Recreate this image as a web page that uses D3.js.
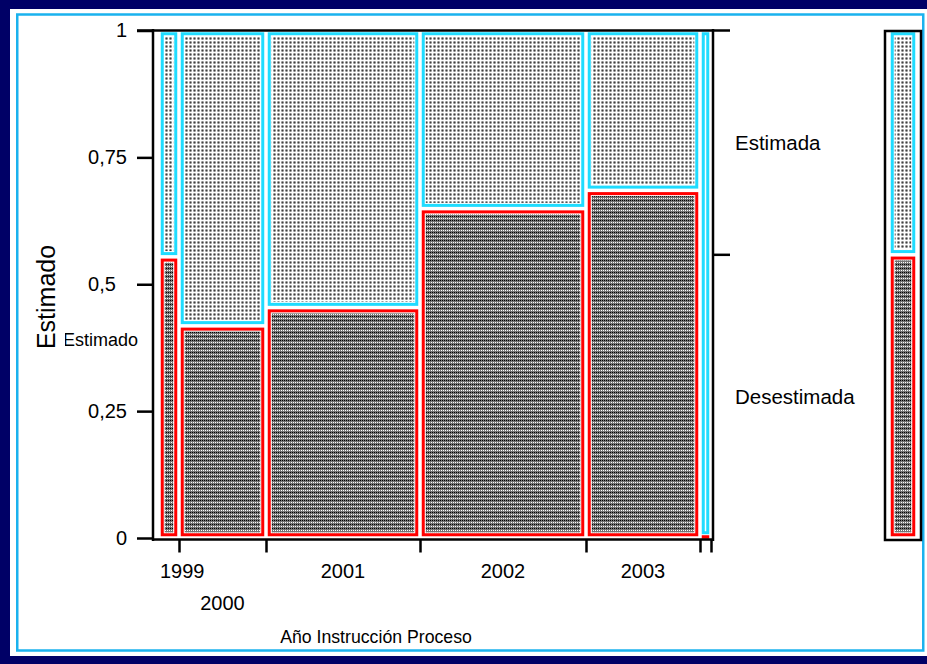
<!DOCTYPE html>
<html><head><meta charset="utf-8">
<script src="https://cdn.jsdelivr.net/npm/d3@7"></script>
<style>
body{margin:0;background:#000066;}
svg{display:block;}
text{font-family:"Liberation Sans",Arial,sans-serif;fill:#000;}
</style>
</head><body>
<svg id="c" width="927" height="664"></svg>
<script>
// ---- data ----
const years = ["1999","2000","2001","2002","2003",""];
const yearCounts = [20, 87, 154, 166, 114, 11];
const desestimadaShare = [0.554, 0.418, 0.454, 0.649, 0.685, 0.004];
const levels = ["Desestimada", "Estimada"];
const overallDesestimada = 0.558;
const yTicks = [0, 0.25, 0.5, 0.75, 1];

// ---- setup ----
const W = 927, H = 664;
const svg = d3.select("#c");
svg.append("rect").attr("width", W).attr("height", H).attr("fill", "#000066");
svg.append("rect").attr("x", 10).attr("y", 9).attr("width", W).attr("height", 647).attr("fill", "#fff");
svg.append("rect").attr("x", 17.25).attr("y", 14.5).attr("width", 906).attr("height", 636)
  .attr("fill", "none").attr("stroke", "#1ab2ee").attr("stroke-width", 2.5);

const defs = svg.append("defs");
function makePattern(id, base, pix) {
  const p = defs.append("pattern").attr("id", id).attr("patternUnits", "userSpaceOnUse")
    .attr("x", 0).attr("y", 0).attr("width", 4).attr("height", 4);
  p.append("rect").attr("width", 4).attr("height", 4).attr("fill", base).attr("shape-rendering", "crispEdges");
  pix.forEach(([px, py, c]) => p.append("rect").attr("x", px).attr("y", py).attr("width", 1).attr("height", 1)
    .attr("fill", c).attr("shape-rendering", "crispEdges"));
}
makePattern("patE", "#ffffff", [
  [1,1,"#c0c0c0"],[2,1,"#8a8a8a"],[3,1,"#c0c0c0"],
  [1,2,"#8a8a8a"],[2,2,"#404040"],[3,2,"#8a8a8a"],
  [1,3,"#c0c0c0"],[2,3,"#8a8a8a"],[3,3,"#c0c0c0"]
]);
makePattern("patD", "#747474", [
  [0,0,"#000"],[2,0,"#000"],[1,2,"#fff"],[3,2,"#fff"]
]);

const styles = {
  "Desestimada": {stroke: "#ff0000", fill: "url(#patD)"},
  "Estimada": {stroke: "#1fdcff", fill: "url(#patE)"}
};

const total = d3.sum(yearCounts);
const x = d3.scaleLinear().domain([0, total]).range([159, 711]);
const y = d3.scaleLinear().domain([0, 1]).range([538, 30.5]);
const cum = Array.from(d3.cumsum(yearCounts));
const starts = cum.map((c, i) => c - yearCounts[i]);

const gap = 1.75, sw = 3;
const cells = svg.append("g");
function drawCell(x0, x1, yTop, yBot, level) {
  const st = styles[level];
  const L = x0 + gap, R = x1 - gap, T = yTop + gap, B = yBot - gap;
  let sx = L + sw / 2, sy = T + sw / 2, w = R - L - sw, h = B - T - sw;
  if (w < 0.5) { sx = (x0 + x1) / 2 - 0.25; w = 0.5; }
  if (h < 0.5) { sy = (yTop + yBot) / 2 - 0.25; h = 0.5; }
  const pw = R - L - 2 * sw - 2, ph = B - T - 2 * sw - 2;
  if (pw > 0 && ph > 0) {
    cells.append("rect").attr("x", L + sw + 1).attr("y", T + sw + 1).attr("width", pw).attr("height", ph)
      .attr("fill", st.fill);
  }
  cells.append("rect").attr("x", sx).attr("y", sy).attr("width", w).attr("height", h)
    .attr("fill", "none").attr("stroke", st.stroke).attr("stroke-width", sw);
}

years.forEach((yr, i) => {
  const x0 = x(starts[i]), x1 = x(cum[i]);
  const p = desestimadaShare[i];
  drawCell(x0, x1, y(1), y(p), "Estimada");
  drawCell(x0, x1, y(p), y(0), "Desestimada");
});

// overall bar
const barL = 889, barR = 917;
svg.append("rect").attr("x", 885).attr("y", 31).attr("width", 36).attr("height", 509)
  .attr("fill", "none").attr("stroke", "#000").attr("stroke-width", 2.5);
drawCell(barL, barR, y(1), y(overallDesestimada), "Estimada");
drawCell(barL, barR, y(overallDesestimada), y(0), "Desestimada");

// ---- frame lines ----
const frame = svg.append("g").attr("stroke", "#000").attr("stroke-width", 2.5);
frame.append("line").attr("x1", 153).attr("x2", 153).attr("y1", 29).attr("y2", 541);
frame.append("line").attr("x1", 713).attr("x2", 713).attr("y1", 29).attr("y2", 541);
frame.append("line").attr("x1", 137).attr("x2", 730).attr("y1", y(1)).attr("y2", y(1));
frame.append("line").attr("x1", 153).attr("x2", 714).attr("y1", 539.5).attr("y2", 539.5);
frame.append("line").attr("x1", 713).attr("x2", 730).attr("y1", y(overallDesestimada)).attr("y2", y(overallDesestimada));

// ---- y axis ----
const fs = 20;
const fmt = v => {
  let s = d3.format(".2f")(v).replace(".", ",");
  s = s.replace(/0+$/, "").replace(/,$/, "");
  return s;
};
const yAxis = d3.axisLeft(y).tickValues(yTicks).tickSize(16).tickPadding(10).tickFormat(fmt);
const yg = svg.append("g").attr("transform", "translate(153,0)").call(yAxis);
yg.select(".domain").remove();
yg.selectAll(".tick line").attr("stroke", "#000").attr("stroke-width", 2.5);
yg.selectAll(".tick text").attr("font-size", fs).attr("font-family", "Liberation Sans, Arial, sans-serif")
  .attr("fill", "#000")
  .attr("x", function(d) {
    const full = d3.format(".2f")(d).replace(".", ",");
    const s = fmt(d);
    const trimmed = s.includes(",") ? full.length - s.length : 0;
    return -26 - trimmed * 0.556 * fs;
  });

// ---- x axis ----
const xAxis = d3.axisBottom(x).tickValues(cum).tickSize(13).tickFormat("");
const xg = svg.append("g").attr("transform", "translate(0,539.5)").call(xAxis);
xg.select(".domain").remove();
xg.selectAll(".tick line").attr("stroke", "#000").attr("stroke-width", 2.5);

const xl = svg.append("g").attr("font-size", fs);
years.forEach((yr, i) => {
  if (!yr) return;
  const cx = x(starts[i] + yearCounts[i] / 2);
  const row = (i === 1) ? 1 : 0;
  const t = xl.append("text").attr("text-anchor", "middle").attr("x", cx).attr("y", 578 + row * 32).text(yr);
  const wdt = t.node().getComputedTextLength();
  if (cx - wdt / 2 < 160) t.attr("x", 160 + wdt / 2);
});

svg.append("text").attr("x", 376).attr("y", 643).attr("text-anchor", "middle").attr("font-size", 17.7)
  .text("Año Instrucción Proceso");

// ---- y titles ----
svg.append("text").attr("transform", "translate(55,297) rotate(-90)").attr("text-anchor", "middle")
  .attr("font-size", 25).text("Estimado");
defs.append("clipPath").attr("id", "clipE").append("rect").attr("x", 65).attr("y", 320).attr("width", 90).attr("height", 40);
svg.append("text").attr("x", 63).attr("y", 346).attr("font-size", 18).attr("clip-path", "url(#clipE)").text("Estimado");

// ---- right labels ----
const yMid = [(y(1) + y(overallDesestimada)) / 2, (y(overallDesestimada) + y(0)) / 2];
svg.append("text").attr("x", 735).attr("y", yMid[0]).attr("dy", "0.35em").attr("font-size", 20.5).text(levels[1]);
svg.append("text").attr("x", 735).attr("y", yMid[1]).attr("dy", "0.35em").attr("font-size", 20.5).text(levels[0]);
</script>
</body></html>
